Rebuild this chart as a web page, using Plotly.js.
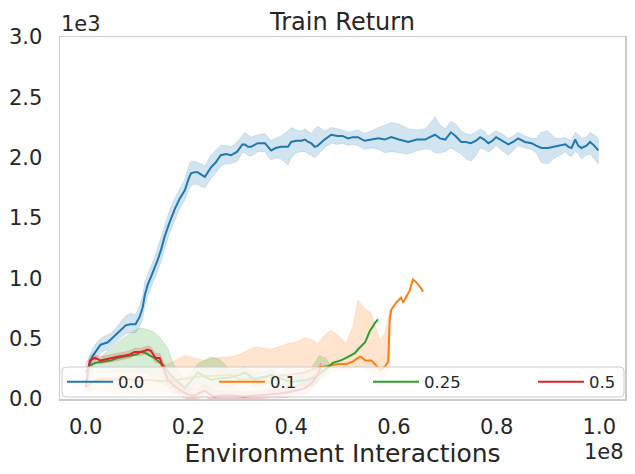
<!DOCTYPE html>
<html>
<head>
<meta charset="utf-8">
<script src="https://cdn.plot.ly/plotly-3.0.1.min.js"></script>
<style>html,body{margin:0;padding:0;background:#fff;}#chart{width:635px;height:474px;}</style>
</head>
<body>
<div id="chart"></div>
<script>
// x in units of 1e8 environment interactions, y in units of 1e3 return
const seriesNames = ["0.0", "0.1", "0.25", "0.5"];
const seriesColors = ["31,119,180", "255,127,14", "44,160,44", "214,39,40"];

// ---- 0.0 (blue) ----
const xBlue = [0.000,0.005,0.014,0.022,0.029,0.036,0.043,0.053,0.061,0.068,0.078,0.087,0.097,0.105,0.111,0.115,0.121,0.127,0.134,0.140,0.147,0.154,0.163,0.173,0.183,0.193,0.200,0.205,0.212,0.218,0.225,0.232,0.238,0.244,0.253,0.263,0.273,0.283,0.295,0.305,0.310,0.316,0.322,0.335,0.349,0.355,0.361,0.370,0.380,0.394,0.400,0.410,0.420,0.427,0.433,0.439,0.446,0.452,0.465,0.478,0.490,0.500,0.511,0.520,0.530,0.543,0.556,0.570,0.582,0.595,0.610,0.628,0.645,0.661,0.670,0.680,0.690,0.700,0.711,0.720,0.731,0.740,0.750,0.760,0.768,0.776,0.784,0.792,0.799,0.810,0.823,0.832,0.842,0.855,0.868,0.877,0.887,0.900,0.914,0.925,0.934,0.940,0.946,0.953,0.959,0.965,0.975,0.982,0.990,0.998];
const meanBlue = [0.22,0.26,0.36,0.41,0.45,0.46,0.47,0.51,0.54,0.57,0.61,0.62,0.62,0.68,0.76,0.86,0.95,1.01,1.08,1.15,1.24,1.35,1.46,1.57,1.66,1.73,1.82,1.87,1.88,1.88,1.86,1.84,1.88,1.92,1.96,2.02,2.03,2.02,2.05,2.11,2.11,2.09,2.09,2.12,2.12,2.09,2.06,2.08,2.09,2.09,2.13,2.14,2.14,2.15,2.13,2.12,2.09,2.10,2.15,2.19,2.18,2.18,2.16,2.17,2.17,2.14,2.15,2.16,2.15,2.17,2.15,2.13,2.15,2.15,2.17,2.19,2.16,2.15,2.21,2.18,2.13,2.13,2.12,2.14,2.17,2.15,2.12,2.14,2.17,2.14,2.11,2.13,2.16,2.13,2.12,2.10,2.08,2.08,2.09,2.10,2.11,2.09,2.08,2.15,2.10,2.08,2.10,2.13,2.10,2.06];
const upBlue = [0.30,0.33,0.42,0.47,0.50,0.52,0.53,0.56,0.60,0.64,0.69,0.71,0.70,0.77,0.86,0.97,1.04,1.10,1.17,1.25,1.34,1.45,1.56,1.66,1.74,1.82,1.92,1.97,1.97,1.96,1.95,1.93,1.97,2.02,2.06,2.10,2.10,2.09,2.13,2.18,2.21,2.19,2.17,2.19,2.20,2.17,2.14,2.16,2.18,2.22,2.25,2.23,2.22,2.24,2.22,2.20,2.24,2.26,2.22,2.25,2.24,2.23,2.21,2.22,2.23,2.20,2.22,2.25,2.27,2.29,2.28,2.24,2.23,2.24,2.28,2.34,2.27,2.24,2.30,2.28,2.22,2.20,2.19,2.21,2.24,2.22,2.18,2.20,2.22,2.20,2.16,2.18,2.21,2.18,2.16,2.16,2.21,2.22,2.16,2.16,2.17,2.15,2.14,2.21,2.19,2.16,2.17,2.21,2.19,2.16];
const loBlue = [0.10,0.16,0.28,0.34,0.38,0.40,0.41,0.45,0.48,0.50,0.54,0.55,0.55,0.60,0.66,0.77,0.86,0.92,0.99,1.06,1.14,1.25,1.37,1.48,1.58,1.65,1.73,1.77,1.78,1.78,1.76,1.75,1.79,1.83,1.87,1.93,1.95,1.95,1.97,2.04,2.04,2.02,2.01,2.05,2.05,2.01,1.98,2.00,1.99,1.94,2.00,2.04,2.05,2.05,2.03,2.02,2.00,2.02,2.08,2.12,2.11,2.12,2.10,2.11,2.10,2.07,2.08,2.07,2.04,2.05,2.04,2.03,2.06,2.07,2.07,2.04,2.04,2.05,2.08,2.06,2.03,1.99,1.97,2.02,2.08,2.07,2.05,2.07,2.10,2.06,2.02,2.06,2.10,2.08,2.07,2.04,1.96,1.95,2.00,2.03,2.05,2.02,2.01,2.06,2.03,1.99,2.02,2.03,1.99,1.95];

// ---- 0.1 (orange) ----
const xOrange = [0.000,0.010,0.023,0.040,0.060,0.080,0.100,0.120,0.140,0.166,0.180,0.193,0.210,0.232,0.250,0.283,0.300,0.329,0.345,0.361,0.374,0.394,0.410,0.427,0.440,0.452,0.465,0.478,0.491,0.507,0.520,0.530,0.536,0.544,0.556,0.565,0.573,0.583,0.589,0.592,0.595,0.605,0.614,0.618,0.624,0.631,0.637,0.643,0.651,0.657];
const meanOrange = [0.10,0.13,0.16,0.17,0.16,0.17,0.15,0.16,0.15,0.15,0.16,0.17,0.18,0.19,0.19,0.20,0.16,0.17,0.18,0.18,0.19,0.20,0.21,0.22,0.24,0.26,0.27,0.28,0.29,0.29,0.31,0.34,0.35,0.32,0.32,0.28,0.24,0.27,0.31,0.66,0.74,0.80,0.84,0.80,0.85,0.90,0.99,0.97,0.93,0.89];
const upOrange = [0.15,0.20,0.22,0.23,0.24,0.24,0.25,0.25,0.26,0.30,0.33,0.36,0.34,0.32,0.34,0.35,0.37,0.43,0.42,0.41,0.43,0.46,0.47,0.51,0.49,0.46,0.53,0.57,0.53,0.46,0.60,0.82,0.79,0.75,0.71,0.60,0.49,0.55,0.68,0.74,null,null,null,null,null,null,null,null,null,null];
const loOrange = [0.05,0.06,0.07,0.06,0.05,0.05,0.04,0.04,0.04,0.04,0.05,0.05,0.05,0.05,0.04,0.04,0.04,0.04,0.05,0.05,0.05,0.06,0.07,0.08,0.10,0.14,0.18,0.22,0.23,0.24,0.25,0.26,0.27,0.25,0.22,0.20,0.18,0.19,0.22,0.30,null,null,null,null,null,null,null,null,null,null];

// ---- 0.25 (green) ----
const xGreen = [0.004,0.008,0.020,0.037,0.050,0.062,0.075,0.088,0.100,0.107,0.117,0.125,0.134,0.142,0.150,0.160,0.170,0.180,0.193,0.205,0.218,0.230,0.244,0.260,0.283,0.300,0.310,0.320,0.329,0.345,0.361,0.380,0.400,0.415,0.433,0.446,0.455,0.466,0.474,0.481,0.489,0.497,0.507,0.517,0.524,0.530,0.537,0.544,0.549,0.554,0.559,0.563,0.569];
const meanGreen = [0.25,0.28,0.30,0.31,0.32,0.34,0.35,0.36,0.37,0.39,0.38,0.36,0.34,0.31,0.28,0.23,0.18,0.14,0.09,0.15,0.22,0.19,0.16,0.17,0.18,0.20,0.22,0.19,0.16,0.18,0.20,0.17,0.14,0.15,0.16,0.18,0.21,0.24,0.27,0.30,0.31,0.32,0.34,0.36,0.38,0.41,0.44,0.47,0.52,0.57,0.60,0.63,0.66];
const upGreen = [0.26,0.27,0.30,0.38,0.43,0.47,0.51,0.55,0.58,0.59,0.58,0.57,0.55,0.52,0.48,0.42,0.30,0.22,0.17,0.22,0.29,0.32,0.35,0.33,0.24,0.25,0.27,0.24,0.21,0.22,0.24,0.21,0.18,0.20,0.22,0.30,0.36,0.34,0.30,null,null,null,null,null,null,null,null,null,null,null,null,null,null];
const loGreen = [0.20,0.21,0.22,0.22,0.22,0.22,0.22,0.22,0.22,0.22,0.21,0.19,0.17,0.14,0.12,0.10,0.08,0.05,0.03,0.08,0.13,0.10,0.08,0.09,0.10,0.13,0.14,0.12,0.10,0.11,0.13,0.11,0.09,0.10,0.10,0.12,0.16,0.20,0.25,null,null,null,null,null,null,null,null,null,null,null,null,null,null];

// ---- 0.5 (red) ----
const xRed = [0.000,0.004,0.008,0.018,0.029,0.040,0.049,0.062,0.076,0.086,0.095,0.107,0.115,0.121,0.127,0.131,0.136,0.144,0.150,0.155,0.160,0.172,0.185,0.198,0.212,0.222,0.232,0.241,0.251,0.265,0.283,0.310,0.335,0.360,0.388,0.410,0.427,0.440,0.452,0.458];
const meanRed = [0.10,0.20,0.32,0.34,0.32,0.33,0.34,0.35,0.36,0.37,0.39,0.39,0.40,0.41,0.40,0.37,0.34,0.34,0.27,0.22,0.16,0.11,0.07,0.04,0.03,0.05,0.07,0.04,0.02,0.03,0.03,0.02,0.03,0.04,0.05,0.07,0.09,0.13,0.20,0.27];
const upRed = [0.12,0.23,0.35,0.37,0.35,0.36,0.37,0.38,0.39,0.40,0.42,0.42,0.43,0.44,0.43,0.41,0.38,0.38,0.32,0.28,0.23,0.18,0.13,0.10,0.08,0.10,0.12,0.09,0.07,0.07,0.07,0.06,0.07,0.08,0.10,0.12,0.15,0.19,0.25,0.30];
const loRed = [0.08,0.17,0.29,0.31,0.29,0.30,0.31,0.32,0.33,0.34,0.36,0.36,0.37,0.38,0.37,0.33,0.30,0.30,0.22,0.16,0.10,0.05,0.02,0.00,0.00,0.01,0.02,0.00,0.00,0.00,0.00,0.00,0.00,0.01,0.01,0.03,0.04,0.08,0.15,0.24];

const allX = [xBlue, xOrange, xGreen, xRed];
const allMean = [meanBlue, meanOrange, meanGreen, meanRed];
const allUp = [upBlue, upOrange, upGreen, upRed];
const allLo = [loBlue, loOrange, loGreen, loRed];

const legendIds = ["legend", "legend2", "legend3", "legend4"];
const traces = [];
for (let i = 0; i < 4; i++) {
  const xs = allX[i], up = allUp[i], lo = allLo[i];
  const bx = [], bu = [], bl = [];
  for (let k = 0; k < xs.length; k++) {
    if (up[k] !== null && lo[k] !== null) { bx.push(xs[k]); bu.push(up[k]); bl.push(lo[k]); }
  }
  traces.push({
    x: bx.concat(bx.slice().reverse()),
    y: bu.concat(bl.slice().reverse()),
    type: 'scatter', mode: 'lines', fill: 'toself',
    fillcolor: 'rgba(' + seriesColors[i] + ',0.2)',
    line: {color: 'rgba(' + seriesColors[i] + ',0.15)', width: 1},
    showlegend: false, hoverinfo: 'skip'
  });
  traces.push({
    x: xs, y: allMean[i], type: 'scatter', mode: 'lines', name: seriesNames[i],
    line: {color: 'rgb(' + seriesColors[i] + ')', width: 2},
    legend: legendIds[i]
  });
}

const W = 565, H = 362;
function px2x(p) { return (p - 60) / W; }
function py2y(p) { return (399 - p) / H; }
const r = 4;
const bx0 = px2x(62), bx1 = px2x(624), by0 = py2y(397), by1 = py2y(367);
const rx = r / W, ry = r / H;
const boxPath = 'M' + (bx0 + rx) + ',' + by0 + ' L' + (bx1 - rx) + ',' + by0 +
  ' Q' + bx1 + ',' + by0 + ' ' + bx1 + ',' + (by0 + ry) +
  ' L' + bx1 + ',' + (by1 - ry) + ' Q' + bx1 + ',' + by1 + ' ' + (bx1 - rx) + ',' + by1 +
  ' L' + (bx0 + rx) + ',' + by1 + ' Q' + bx0 + ',' + by1 + ' ' + bx0 + ',' + (by1 - ry) +
  ' L' + bx0 + ',' + (by0 + ry) + ' Q' + bx0 + ',' + by0 + ' ' + (bx0 + rx) + ',' + by0 + ' Z';

const legendStartPx = [62, 214, 368, 533];
const layout = {
  width: 635, height: 474,
  margin: {l: 60, r: 10, t: 37, b: 75},
  paper_bgcolor: '#ffffff', plot_bgcolor: '#ffffff',
  font: {family: 'DejaVu Sans', color: '#262626', size: 21},
  title: {text: 'Train Return', font: {family: 'DejaVu Sans', color: '#262626', size: 24},
          x: 0.5, xref: 'paper', y: 1, yref: 'paper', yanchor: 'bottom', pad: {b: 7}},
  xaxis: {range: [-0.05, 1.05], tickvals: [0, 0.2, 0.4, 0.6, 0.8, 1.0], tickformat: '.1f',
          showgrid: false, zeroline: false, showline: true, mirror: true,
          linecolor: '#cccccc', linewidth: 1.5, ticks: '', ticklabelstandoff: 8,
          tickfont: {family: 'DejaVu Sans', color: '#262626', size: 21},
          title: {text: 'Environment Interactions', standoff: 7,
                  font: {family: 'DejaVu Sans', color: '#262626', size: 25}}},
  yaxis: {range: [0, 3], tickvals: [0, 0.5, 1, 1.5, 2, 2.5, 3], tickformat: '.1f',
          showgrid: false, zeroline: false, showline: true, mirror: true,
          linecolor: '#cccccc', linewidth: 1.5, ticks: '', ticklabelstandoff: 12,
          tickfont: {family: 'DejaVu Sans', color: '#262626', size: 21}},
  shapes: [{type: 'path', xref: 'paper', yref: 'paper', path: boxPath, layer: 'above',
            fillcolor: 'rgba(255,255,255,0.8)', line: {color: '#cccccc', width: 1}}],
  annotations: [
    {text: '1e3', xref: 'paper', yref: 'paper', x: 0, y: 1, xanchor: 'left', yanchor: 'bottom',
     showarrow: false, font: {family: 'DejaVu Sans', color: '#262626', size: 21}, borderpad: 0},
    {text: '1e8', xref: 'paper', yref: 'paper', x: 1, y: py2y(439), xanchor: 'right', yanchor: 'top',
     showarrow: false, font: {family: 'DejaVu Sans', color: '#262626', size: 21}, borderpad: 0}
  ],
  showlegend: true
};
for (let i = 0; i < 4; i++) {
  layout[legendIds[i]] = {
    x: px2x(legendStartPx[i]), y: py2y(382), xanchor: 'left', yanchor: 'middle',
    orientation: 'h', bgcolor: 'rgba(0,0,0,0)', borderwidth: 0, itemwidth: 46,
    font: {family: 'DejaVu Sans', color: '#262626', size: 16.5}
  };
}
Plotly.newPlot('chart', traces, layout, {displayModeBar: false, staticPlot: true});
</script>
</body>
</html>
